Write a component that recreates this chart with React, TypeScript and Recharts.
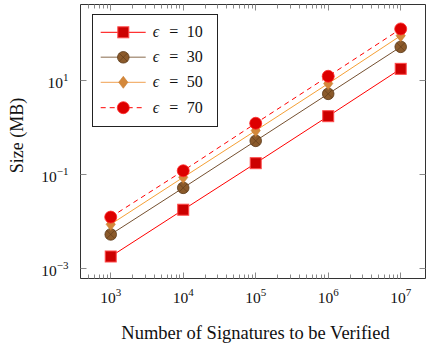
import React from 'react';
import { LineChart, Line, XAxis, YAxis, ReferenceArea, Legend } from 'recharts';

// ---- data ----
const signatures = [1e3, 1e4, 1e5, 1e6, 1e7];
const eps10 = [0.0018, 0.0178, 0.174, 1.74, 17.7];
const eps30 = [0.0053, 0.052, 0.52, 5.2, 52];
const eps50 = [0.0087, 0.087, 0.86, 8.6, 90];
const eps70 = [0.0124, 0.12, 1.23, 12.3, 125];
const seriesLabels = ['10', '30', '50', '70'];

const xMajorTicks = [1e3, 1e4, 1e5, 1e6, 1e7];
const xMinorTicks = [
  500, 600, 700, 800, 900,
  2e3, 3e3, 4e3, 5e3, 6e3, 7e3, 8e3, 9e3,
  2e4, 3e4, 4e4, 5e4, 6e4, 7e4, 8e4, 9e4,
  2e5, 3e5, 4e5, 5e5, 6e5, 7e5, 8e5, 9e5,
  2e6, 3e6, 4e6, 5e6, 6e6, 7e6, 8e6, 9e6,
];
const yMajorTicks = [1e-3, 1e-1, 1e1];

const X_DOMAIN: [number, number] = [Math.pow(10, 2.583), Math.pow(10, 7.342)];
const Y_DOMAIN: [number, number] = [Math.pow(10, -3.213), Math.pow(10, 2.617)];

const data = signatures.map((s, i) => ({
  signatures: s,
  e10: eps10[i],
  e30: eps30[i],
  e50: eps50[i],
  e70: eps70[i],
}));

// ---- layout ----
const W = 426;
const H = 345;
const MARGIN = { top: 4.5, right: 0.5, left: 20.5, bottom: 26.5 };
const YAXIS_W = 60;
const XAXIS_H = 40;
const PLOT_TOP = MARGIN.top;
const PLOT_RIGHT = W - MARGIN.right;
const FONT = '"Liberation Serif", "DejaVu Serif", serif';
const TICK_COLOR = '#8a8a8a';
const FRAME_COLOR = '#333';

const isMajor = (v: number) => {
  const l = Math.log10(v);
  return Math.abs(l - Math.round(l)) < 1e-6;
};
const snap = (v: number) => Math.round(v - 0.5) + 0.5;

const expText = (e: number) => (e < 0 ? '\u2212' + Math.abs(e) : String(e));

const XTick = (props: any) => {
  const { x, y, payload } = props;
  const v = payload.value;
  const major = isMajor(v);
  const len = major ? 6 : 4;
  const xx = snap(x);
  const e = Math.round(Math.log10(v));
  return (
    <g>
      <line x1={xx} x2={xx} y1={y} y2={y - len} stroke={TICK_COLOR} strokeWidth={1} />
      <line x1={xx} x2={xx} y1={PLOT_TOP} y2={PLOT_TOP + len} stroke={TICK_COLOR} strokeWidth={1} />
      {major && (
        <text x={x} y={y + 24} textAnchor="middle" fontFamily={FONT} fontSize={15.5} fill="#111">
          10
          <tspan dy={-6.5} fontSize={11}>{expText(e)}</tspan>
        </text>
      )}
    </g>
  );
};

const YTick = (props: any) => {
  const { x, y, payload } = props;
  const v = payload.value;
  const e = Math.round(Math.log10(v));
  const yy = snap(y);
  return (
    <g>
      <line x1={x} x2={x + 6} y1={yy} y2={yy} stroke={TICK_COLOR} strokeWidth={1} />
      <line x1={PLOT_RIGHT - 6} x2={PLOT_RIGHT} y1={yy} y2={yy} stroke={TICK_COLOR} strokeWidth={1} />
      <text x={x - 12} y={y + 7.5} textAnchor="end" fontFamily={FONT} fontSize={15.5} fill="#111">
        10
        <tspan dy={-6.5} fontSize={11}>{expText(e)}</tspan>
      </text>
    </g>
  );
};

// ---- markers ----
const Square = ({ cx, cy }: any) => (
  <rect x={cx - 5.5} y={cy - 5.5} width={11} height={11} fill="#cc0000" stroke="#ff4a4a" strokeWidth={1} />
);
const CrossCircle = ({ cx, cy }: any) => {
  const r = 5.8;
  const d = r * 0.707;
  return (
    <g>
      <circle cx={cx} cy={cy} r={r} fill="#8b5a2b" stroke="#5a3818" strokeWidth={0.8} />
      <line x1={cx - d} y1={cy - d} x2={cx + d} y2={cy + d} stroke="#5a3818" strokeWidth={0.6} />
      <line x1={cx - d} y1={cy + d} x2={cx + d} y2={cy - d} stroke="#5a3818" strokeWidth={0.6} />
    </g>
  );
};
const Diamond = ({ cx, cy }: any) => (
  <polygon
    points={`${cx},${cy - 6} ${cx + 4.6},${cy} ${cx},${cy + 6} ${cx - 4.6},${cy}`}
    fill="#d4883a"
    stroke="#c77a2e"
    strokeWidth={0.6}
  />
);
const RedCircle = ({ cx, cy }: any) => (
  <circle cx={cx} cy={cy} r={6} fill="#dd0000" stroke="#ff2a2a" strokeWidth={0.8} />
);

const series = [
  { key: 'e10', color: '#ff0000', legendColor: '#ff0000', dash: undefined, Marker: Square },
  { key: 'e30', color: '#755030', legendColor: '#b09c88', dash: undefined, Marker: CrossCircle },
  { key: 'e50', color: '#f5a035', legendColor: '#f0a050', dash: undefined, Marker: Diamond },
  { key: 'e70', color: '#ff0000', legendColor: '#ff0000', dash: '5 4', Marker: RedCircle },
];

const LegendBox = () => {
  const rows = [18.3, 43.3, 68.3, 93.7];
  return (
    <svg width={127} height={114} style={{ display: 'block' }}>
      <rect x={0.5} y={0.5} width={125} height={112} fill="#fff" stroke="#222" strokeWidth={1} />
      {series.map((s, i) => {
        const cy = rows[i];
        const M = s.Marker;
        return (
          <g key={s.key}>
            <line x1={8.7} x2={53.7} y1={cy} y2={cy} stroke={s.legendColor} strokeWidth={s.key === 'e30' ? 1.6 : 1} strokeDasharray={s.dash} />
            <M cx={31.3} cy={cy} />
            <text x={60.7} y={cy + 4.8} fontFamily={FONT} fontSize={16} fontStyle="italic" fill="#111">
              {'\u03F5'}
            </text>
            <text x={77.3} y={cy + 4.8} fontFamily={FONT} fontSize={16} fill="#111">=</text>
            <text x={94.7} y={cy + 4.8} fontFamily={FONT} fontSize={16} fill="#111">{seriesLabels[i]}</text>
          </g>
        );
      })}
    </svg>
  );
};

const YLabel = (props: any) => {
  const vb = props.viewBox || { x: 20.5, y: 4.5, width: 60, height: 274 };
  const x = vb.x + 2.5;
  const y = vb.y + vb.height / 2 - 6;
  return (
    <text x={x} y={y} transform={`rotate(-90, ${x}, ${y})`} textAnchor="middle" fontFamily={FONT} fontSize={18} fill="#111">
      Size (MB)
    </text>
  );
};

const XLabel = (props: any) => {
  const vb = props.viewBox || { x: 80.5, y: 278.5, width: 345, height: 40 };
  const x = vb.x + vb.width / 2 + 2.5;
  const y = vb.y + 60.5;
  return (
    <text x={x} y={y} textAnchor="middle" fontFamily={FONT} fontSize={18.5} fill="#111">
      Number of Signatures to be Verified
    </text>
  );
};

export default function App() {
  return (
    <div style={{ position: 'absolute', left: 0, top: 0, width: W, height: H, background: '#fff' }}>
      <LineChart width={W} height={H} data={data} margin={MARGIN}>
        <XAxis
          dataKey="signatures"
          type="number"
          scale="log"
          domain={X_DOMAIN}
          allowDataOverflow
          ticks={[...xMinorTicks, ...xMajorTicks]}
          interval={0}
          tick={<XTick />}
          tickSize={0}
          tickMargin={0}
          tickLine={false}
          axisLine={false}
          height={XAXIS_H}
          label={XLabel}
        />
        <YAxis
          type="number"
          scale="log"
          domain={Y_DOMAIN}
          allowDataOverflow
          ticks={yMajorTicks}
          interval={0}
          tick={<YTick />}
          tickSize={0}
          tickMargin={0}
          tickLine={false}
          axisLine={false}
          width={YAXIS_W}
          label={YLabel}
        />
        <ReferenceArea
          x1={X_DOMAIN[0]}
          x2={X_DOMAIN[1]}
          y1={Y_DOMAIN[0]}
          y2={Y_DOMAIN[1]}
          fill="none"
          stroke={FRAME_COLOR}
          strokeWidth={1}
          ifOverflow="visible"
        />
        {series.map((s) => {
          const M = s.Marker;
          return (
            <Line
              key={s.key}
              dataKey={s.key}
              type="linear"
              stroke={s.color}
              strokeWidth={1}
              strokeDasharray={s.dash}
              isAnimationActive={false}
              activeDot={false}
              dot={(p: any) => <M key={`${s.key}-${p.index}`} cx={p.cx} cy={p.cy} />}
            />
          );
        })}
        <Legend
          layout="vertical"
          align="center"
          verticalAlign="middle"
          content={() => <LegendBox />}
          wrapperStyle={{ position: 'absolute', left: 91.5, top: 13.5, width: 127, height: 114, margin: 0 }}
        />
      </LineChart>
    </div>
  );
}
